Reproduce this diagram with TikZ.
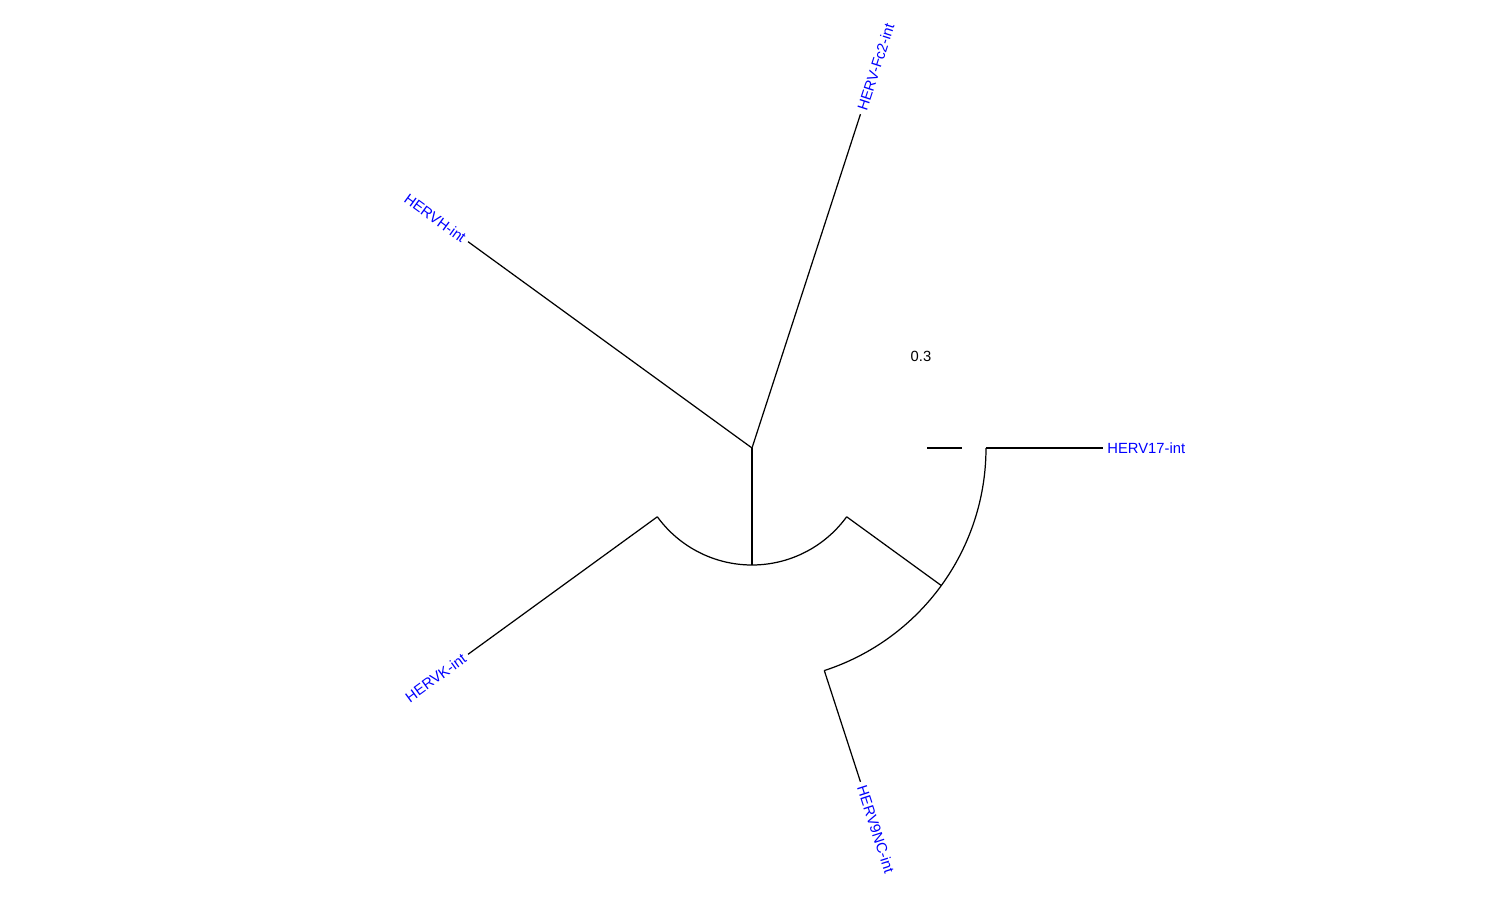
\documentclass[tikz,border=0pt]{standalone}
\usepackage{fontspec}
\setmainfont{Liberation Sans}
\begin{document}
\begin{tikzpicture}[x=0.02cm,y=0.02cm,line width=0.7pt,
        tiplabel/.style={text=blue,inner sep=2.2pt,font=\fontsize{8.4}{10}\selectfont},
        scalelabel/.style={inner sep=0pt,font=\fontsize{8.4}{10}\selectfont}]
                \useasboundingbox (-752,-452) rectangle (748,448);
                % inner nodes
                \coordinate (root) at (0,0);
                \coordinate (n1) at (270:117);
                \coordinate (n1a) at (216:117);
                \coordinate (n1b) at (324:117);
                \coordinate (n2) at (324:234);
                \coordinate (n2a) at (288:234);
                \coordinate (n2b) at (0:234);
                % tips and their labels
                \foreach \ang/\rot/\side/\lab in {0/0/west/HERV17-int,72/72/west/HERV-Fc2-int,144/-36/east/HERVH-int,216/36/east/HERVK-int,288/-72/west/HERV9NC-int}{
                    \coordinate (t\ang) at (\ang:351);
                    \node[tiplabel,anchor=\side,rotate=\rot] (lab\ang) at (t\ang) {\lab};
                }
                % branches
                \draw (root) -- (t72);
                \draw (root) -- (t144);
                \draw (root) -- (n1);
                \draw (n1a) arc[start angle=216,end angle=324,radius=117];
                \draw (n1a) -- (t216);
                \draw (n1b) -- (n2);
                \draw (n2a) arc[start angle=288,end angle=360,radius=234];
                \draw (n2a) -- (t288);
                \draw (n2b) -- (t0);
                % scale bar
                \coordinate (sb1) at (175,0);
                \coordinate (sb2) at (210,0);
                \draw (sb1) -- (sb2);
                \node[scalelabel] (sblab) at (169,92) {0.3};
            \end{tikzpicture}
\end{document}
